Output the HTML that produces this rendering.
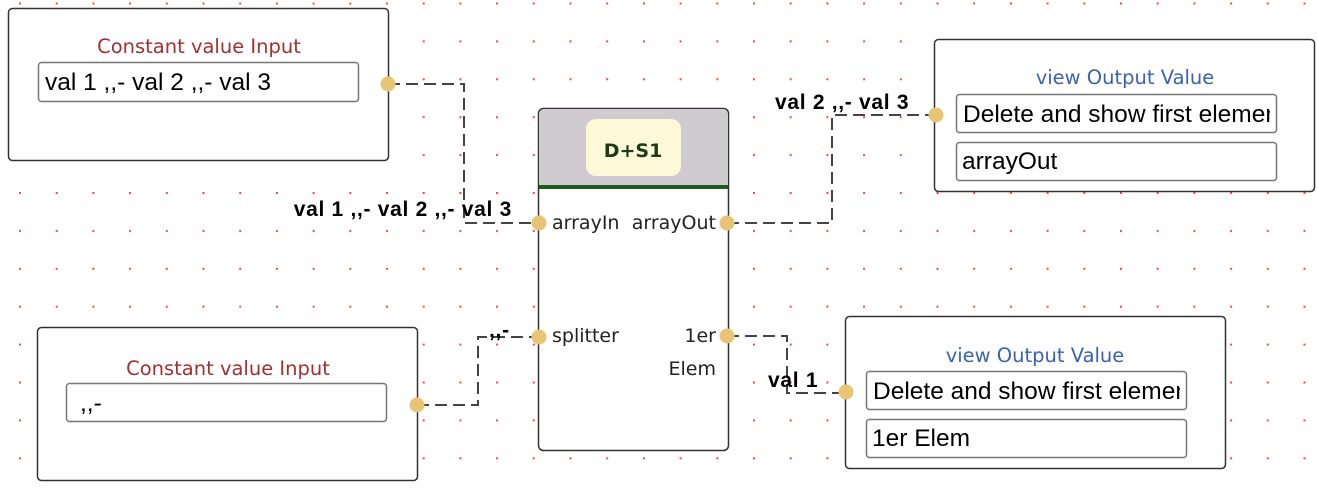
<!DOCTYPE html>
<html><head><meta charset="utf-8"><style>
html,body{margin:0;padding:0;background:#fff;}
svg text{font-family:"DejaVu Sans","Liberation Sans",sans-serif;}
.t{font-family:"Liberation Sans",sans-serif;font-size:24.5px;fill:#000;}
.lb{font-family:"Liberation Sans",sans-serif;font-weight:bold;font-size:21px;letter-spacing:0.7px;fill:#000;}
.nl{font-size:19px;fill:#222;}
</style></head><body>
<svg width="1317" height="487" xmlns="http://www.w3.org/2000/svg">
<defs>
<pattern id="dots" x="19" y="2.5" width="36.7" height="37.9" patternUnits="userSpaceOnUse">
<rect x="0" y="0" width="2" height="2" fill="#f24a4a"/>
</pattern>
<clipPath id="c1"><rect x="957" y="95" width="313" height="36"/></clipPath>
<clipPath id="c2"><rect x="867" y="372" width="313" height="36"/></clipPath>
</defs>
<rect width="1317" height="487" fill="url(#dots)"/>

<g fill="none" stroke="#444" stroke-width="2" stroke-dasharray="12,6">
<path d="M388 84 H464 V223 H539"/>
<path d="M417 405 H478 V337 H539"/>
<path d="M727 223 H832 V115 H936"/>
<path d="M727 336 H787 V393 H846"/>
</g>

<rect x="8.5" y="8.5" width="380" height="152" rx="4" fill="#fff" stroke="#333" stroke-width="1.5"/>
<text x="199" y="53" text-anchor="middle" font-size="19.5" fill="#a33030">Constant value Input</text>
<rect x="38.5" y="62.5" width="320" height="39" rx="3" fill="#fff" stroke="#777" stroke-width="1.5"/>
<text x="45" y="90" class="t">val 1 ,,- val 2 ,,- val 3</text>
<circle cx="388" cy="84" r="7.5" fill="#e8c574"/>

<rect x="37.5" y="327.5" width="380" height="153" rx="4" fill="#fff" stroke="#333" stroke-width="1.5"/>
<text x="228" y="375" text-anchor="middle" font-size="19.5" fill="#a33030">Constant value Input</text>
<rect x="66.5" y="383.5" width="320" height="38" rx="3" fill="#fff" stroke="#777" stroke-width="1.5"/>
<text x="80" y="411" class="t">,,-</text>
<circle cx="417" cy="405" r="7.5" fill="#e8c574"/>

<rect x="538.5" y="108.5" width="190" height="342" rx="5" fill="#fff" stroke="#333" stroke-width="1.5"/>
<path d="M539 188 V114 a5 5 0 0 1 5 -5 H723 a5 5 0 0 1 5 5 V188 Z" fill="#d0cbd0"/>
<rect x="539" y="185" width="189" height="4" fill="#1e5c1e"/>
<rect x="586" y="119" width="95" height="57" rx="10" fill="#fdf8d8"/>
<text x="633" y="157" text-anchor="middle" font-size="19" font-weight="bold" fill="#1a3a1a">D+S1</text>
<text x="552" y="229" class="nl">arrayIn</text>
<text x="716" y="229" text-anchor="end" class="nl">arrayOut</text>
<text x="552" y="342" class="nl">splitter</text>
<text x="716" y="342" text-anchor="end" class="nl">1er</text>
<text x="716" y="375" text-anchor="end" class="nl">Elem</text>
<circle cx="539" cy="223" r="7.5" fill="#e8c574"/>
<circle cx="727" cy="223" r="7.5" fill="#e8c574"/>
<circle cx="539" cy="337" r="7.5" fill="#e8c574"/>
<circle cx="727" cy="336" r="7.5" fill="#e8c574"/>

<rect x="934.5" y="39.5" width="380" height="152" rx="4" fill="#fff" stroke="#333" stroke-width="1.5"/>
<text x="1125" y="84" text-anchor="middle" font-size="19.5" fill="#3a62b0">view Output Value</text>
<rect x="956.5" y="94.5" width="320" height="38" rx="3" fill="#fff" stroke="#777" stroke-width="1.5"/>
<text x="963" y="122" class="t" clip-path="url(#c1)">Delete and show first element</text>
<rect x="956.5" y="142.5" width="320" height="38" rx="3" fill="#fff" stroke="#777" stroke-width="1.5"/>
<text x="962" y="169" class="t">arrayOut</text>
<circle cx="936" cy="115" r="7.5" fill="#e8c574"/>

<rect x="845.5" y="316.5" width="380" height="152" rx="4" fill="#fff" stroke="#333" stroke-width="1.5"/>
<text x="1035" y="362" text-anchor="middle" font-size="19.5" fill="#3a62b0">view Output Value</text>
<rect x="866.5" y="371.5" width="320" height="38" rx="3" fill="#fff" stroke="#777" stroke-width="1.5"/>
<text x="873" y="399" class="t" clip-path="url(#c2)">Delete and show first element</text>
<rect x="866.5" y="419.5" width="320" height="38" rx="3" fill="#fff" stroke="#777" stroke-width="1.5"/>
<text x="872" y="446" class="t">1er Elem</text>
<circle cx="846" cy="392" r="7.5" fill="#e8c574"/>

<text x="512" y="216" text-anchor="end" class="lb">val 1 ,,- val 2 ,,- val 3</text>
<text x="775" y="109" class="lb">val 2 ,,- val 3</text>
<text x="489" y="337" class="lb">,,-</text>
<text x="768" y="387" class="lb">val 1</text>
</svg>
</body></html>
